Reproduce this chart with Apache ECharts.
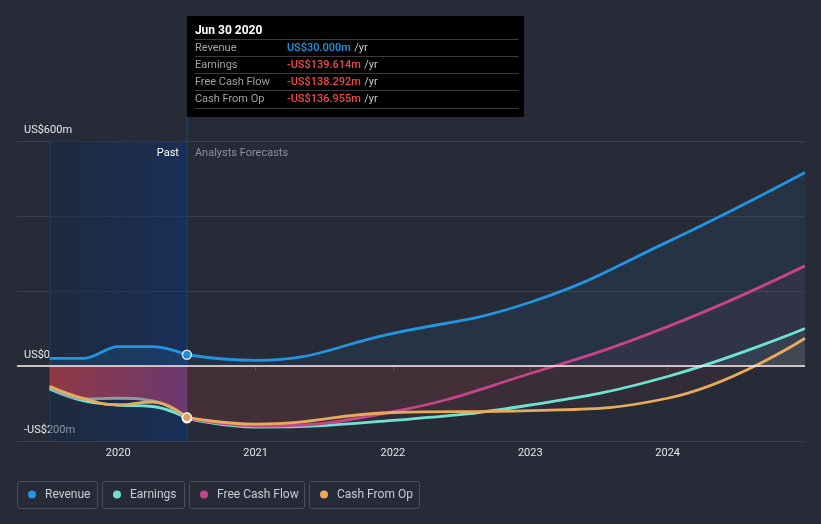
<!DOCTYPE html>
<html><head><meta charset="utf-8">
<script src="https://cdn.jsdelivr.net/npm/echarts@6/dist/echarts.min.js"></script>
<style>html,body{margin:0;padding:0;background:#262b37;} #c{width:821px;height:524px;}</style>
</head><body><div id="c"></div>
<script>
// ---- data ----
const seriesNames = ['Revenue', 'Earnings', 'Free Cash Flow', 'Cash From Op'];
const seriesColors = ['#2394df', '#6fe3d3', '#c6448a', '#e8ab5c'];
const pastX = [2019.5, 2019.75, 2020.0, 2020.25, 2020.5];
const forecastX = [2020.5, 2021, 2022, 2023, 2024, 2025];
const revenuePast = [20.5, 20.5, 51.5, 51.5, 30.0];
const earningsPast = [-61, -93, -104, -108, -139.614];
const fcfPast = [-57, -88, -86, -93, -138.292];
const cfoPast = [-54, -87, -104, -96, -136.955];
const revenueForecast = [30.0, 15, 87, 170, 331, 516];
const earningsForecast = [-139.614, -163, -145, -104, -28, 100];
const fcfForecast = [-138.292, -160, -122, -20, 105, 267];
const cfoForecast = [-136.955, -155, -124, -119, -86, 74];
const xTickYears = [2020, 2021, 2022, 2023, 2024];
const yLabelShown = [-200, 0, 600];
const tooltipDate = 'Jun 30 2020';
const splitYear = 2020.5;
const pastLabel = 'Past';
const forecastLabel = 'Analysts Forecasts';

// ---- chart ----
const yMin = -200, yMax = 600, yInterval = 200;
const gridTop = 141, gridBottom = 83, H = 524;
const zeroOff = yMax / (yMax - yMin);
const negRed = '#e64141';
function hexA(hex, a) { const n = parseInt(hex.slice(1), 16); return `rgba(${n >> 16},${(n >> 8) & 255},${n & 255},${a})`; }
function fmtY(v) { return v === 0 ? 'US$0' : (v < 0 ? '-' : '') + 'US$' + Math.abs(v) + 'm'; }
function fmtMoney(v) { return (v < 0 ? '-' : '') + 'US$' + Math.abs(v).toFixed(3) + 'm'; }
function pairs(xs, ys) { return xs.map((x, i) => [x, ys[i]]); }

function forecastArea(color) {
  return { origin: 'auto', color: new echarts.graphic.LinearGradient(0, gridTop, 0, H - gridBottom, [
    { offset: 0, color: hexA(color, 0.1) }, { offset: zeroOff, color: hexA(color, 0.1) },
    { offset: zeroOff, color: hexA(negRed, 0.075) }, { offset: 1, color: hexA(negRed, 0.075) }], true) };
}
function line(name, xs, ys, color, extra) {
  return Object.assign({ type: 'line', name, data: pairs(xs, ys), smooth: 0.45,
    symbol: 'none', lineStyle: { color, width: 2.8 }, itemStyle: { color }, silent: true, animation: false }, extra || {});
}
const foreDatas = [revenueForecast, earningsForecast, fcfForecast, cfoForecast];

const series = [];
// past
series.push(line(seriesNames[0], pastX, revenuePast, seriesColors[0], {
  smoothMonotone: 'x', smooth: 0.35,
  areaStyle: { origin: 'auto', color: hexA(seriesColors[0], 0.2) }
}));
series.push(line(seriesNames[1], pastX, earningsPast, seriesColors[1]));
series.push(line(seriesNames[2], pastX, fcfPast, seriesColors[2], {
  lineStyle: { color: 'rgba(150,165,168,0.9)', width: 2.8 },
  areaStyle: { origin: 'auto', color: new echarts.graphic.LinearGradient(0, 0, 1, 0, [
    { offset: 0, color: 'rgba(238,66,72,0.8)' }, { offset: 1, color: 'rgba(200,70,140,0.66)' }]) }
}));
series.push(line(seriesNames[3], pastX, cfoPast, seriesColors[3]));
// forecast
for (let i = 0; i < 4; i++) {
  const extra = { areaStyle: forecastArea(seriesColors[i]) };
  if (i === 3) extra.markLine = { silent: true, symbol: ['none', 'none'], label: { show: false },
    lineStyle: { color: '#ffecec', width: 1.5, type: 'solid' }, data: [{ yAxis: 0 }] };
  series.push(line(seriesNames[i], forecastX, foreDatas[i], seriesColors[i], extra));
}
// highlight points at split date
[1, 2, 0, 3].forEach(i => {
  series.push({ type: 'scatter', name: seriesNames[i], silent: true, animation: false,
    data: [[splitYear, foreDatas[i][0]]], symbolSize: 9,
    itemStyle: { color: seriesColors[i], borderColor: '#ffffff', borderWidth: 1.5 }, z: 5 });
});

const chart = echarts.init(document.getElementById('c'));
chart.setOption({
  backgroundColor: '#262b37',
  animation: false,
  textStyle: { fontFamily: 'Roboto' },
  grid: { left: 17, right: 16, top: gridTop, bottom: gridBottom, containLabel: false },
  xAxis: { type: 'value', min: 2019.263, max: 2025,
    axisLine: { show: true, lineStyle: { color: '#4b515c', width: 1 } },
    axisTick: { show: true, customValues: xTickYears, length: 5, lineStyle: { color: '#4b515c' } },
    axisLabel: { customValues: xTickYears, color: '#e4e6ea', fontSize: 11, margin: 7, formatter: v => String(v) },
    splitLine: { show: false } },
  yAxis: { type: 'value', min: yMin, max: yMax, interval: yInterval,
    axisLine: { show: false }, axisTick: { show: false },
    splitLine: { lineStyle: { color: '#3a404b', width: 1 } },
    axisLabel: { inside: true, margin: 7, verticalAlign: 'bottom', padding: [0, 0, 5, 0],
      color: '#e6e8ec', fontSize: 11, formatter: v => yLabelShown.includes(v) ? fmtY(v) : '' } },
  series
});

// ---- overlay graphics (band, tooltip, labels, legend) ----
const xs = chart.convertToPixel({ xAxisIndex: 0 }, splitYear);
const x0 = chart.convertToPixel({ xAxisIndex: 0 }, pastX[0]);
const yTop = chart.convertToPixel({ yAxisIndex: 0 }, yMax);
const yBot = chart.convertToPixel({ yAxisIndex: 0 }, yMin);
const g = [];
g.push({ type: 'rect', z: 1, silent: true, shape: { x: x0, y: yTop, width: xs - x0, height: yBot - yTop },
  style: { fill: new echarts.graphic.LinearGradient(0, 0, 1, 0, [
    { offset: 0, color: 'rgba(20,40,70,0.45)' }, { offset: 1, color: 'rgba(15,50,115,0.55)' }]) } });
g.push({ type: 'line', z: 1, shape: { x1: x0 + 0.5, y1: yTop, x2: x0 + 0.5, y2: yBot }, style: { stroke: 'rgba(40,75,125,0.55)', lineWidth: 1 }, silent: true });
g.push({ type: 'line', z: 1, shape: { x1: xs, y1: 117, x2: xs, y2: yBot }, style: { stroke: '#1f4a7c', lineWidth: 1 }, silent: true });
g.push({ type: 'text', z: 20, x: xs - 8, y: yTop + 12, style: { text: pastLabel, fill: '#ffffff', font: '11px Roboto', align: 'right', verticalAlign: 'middle' }, silent: true });
g.push({ type: 'text', z: 20, x: xs + 8, y: yTop + 12, style: { text: forecastLabel, fill: '#8b9099', font: '11px Roboto', align: 'left', verticalAlign: 'middle' }, silent: true });
// tooltip box
const tipW = 337;
g.push({ type: 'rect', shape: { x: xs, y: 16, width: tipW, height: 101 }, style: { fill: '#000000' }, silent: true, z: 10 });
g.push({ type: 'text', x: xs + 8, y: 31, style: { text: tooltipDate, fill: '#ffffff', font: 'bold 12px Roboto', verticalAlign: 'middle' }, silent: true, z: 11 });
for (let i = 0; i < 4; i++) {
  const ry = 48 + i * 17;
  g.push({ type: 'line', shape: { x1: xs + 8, y1: ry - 8.5, x2: xs + tipW - 5, y2: ry - 8.5 }, style: { stroke: '#3b3b3b', lineWidth: 1 }, silent: true, z: 11 });
  g.push({ type: 'text', x: xs + 8, y: ry, style: { text: seriesNames[i], fill: '#a3a3a3', font: '11px Roboto', verticalAlign: 'middle' }, silent: true, z: 11 });
  const v = foreDatas[i][0];
  g.push({ type: 'text', x: xs + 100, y: ry, style: { text: '{v|' + fmtMoney(v) + '} {u|/yr}', verticalAlign: 'middle',
    rich: { v: { fill: v < 0 ? '#f04848' : '#2394df', font: '500 11px Roboto' }, u: { fill: '#c9c9c9', font: '11px Roboto' } } }, silent: true, z: 11 });
}
g.push({ type: 'line', shape: { x1: xs + 8, y1: 108.5, x2: xs + tipW - 5, y2: 108.5 }, style: { stroke: '#3b3b3b', lineWidth: 1 }, silent: true, z: 11 });
// legend
const boxLeft = [17, 102, 189, 309];
const boxW = [80, 82, 115, 110];
for (let i = 0; i < 4; i++) {
  g.push({ type: 'rect', shape: { x: boxLeft[i] + 0.5, y: 481.5, width: boxW[i], height: 27, r: 2 }, style: { fill: 'none', stroke: '#4a505b', lineWidth: 1 }, silent: true });
  g.push({ type: 'circle', shape: { cx: boxLeft[i] + 15, cy: 494.5, r: 4 }, style: { fill: seriesColors[i] }, silent: true });
  g.push({ type: 'text', x: boxLeft[i] + 28, y: 495, style: { text: seriesNames[i], fill: '#c9ced6', font: '12px Roboto', verticalAlign: 'middle' }, silent: true });
}
chart.setOption({ graphic: g });
</script></body></html>
